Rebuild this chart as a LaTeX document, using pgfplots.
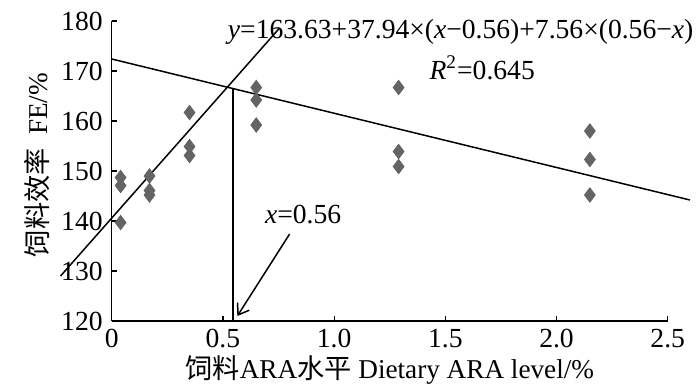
\documentclass[border=0pt]{standalone}
\usepackage{fontspec}
\setmainfont{Liberation Serif}
\newfontfamily\cjk{Noto Sans CJK SC}
\usepackage{pgfplots}
\pgfplotsset{compat=1.18}
\usetikzlibrary{arrows.meta}
\definecolor{pt}{RGB}{100,100,100}
\begin{document}
\begin{tikzpicture}
\begin{axis}[
  name=ax,
  scale only axis,
  width=278pt, height=150pt,
  xmin=0, xmax=2.5, ymin=120, ymax=180,
  axis lines=left,
  axis line style={-, line width=0.7pt},
  clip=false,
  xtick={0,0.5,1,1.5,2,2.5},
  xticklabels={0,0.5,1.0,1.5,2.0,2.5},
  ytick={120,130,140,150,160,170,180},
  tick align=inside,
  major tick length=2.5pt,
  tick style={line width=0.6pt, black},
  /pgf/number format/assume math mode=true,
  ticklabel style={font=\fontsize{13.8}{15}\selectfont},
  xticklabel style={yshift=-0.5pt},
  yticklabel style={xshift=-1pt},
  label style={font=\fontsize{13.6}{15}\selectfont},
  xlabel={{\cjk 饲料}ARA{\cjk 水平} Dietary ARA level/\%},
  ylabel={{\cjk 饲料效率}\ \ FE/\%},
  xlabel style={yshift=3pt},
  ylabel style={at={(ticklabel cs:0.52)}, yshift=-1pt},
]
\coordinate (O) at (axis cs:0,120);
\addplot[only marks, mark=diamond*, mark size=3.6pt, color=pt, mark options={fill=pt, draw=pt}] coordinates {
 (0.04,148.7) (0.04,147.1) (0.04,139.7)
 (0.17,149.0) (0.17,146.1) (0.17,145.2)
 (0.35,161.7) (0.35,154.9) (0.35,153.1)
 (0.65,166.7) (0.65,164.2) (0.65,159.2)
 (1.29,166.7) (1.29,153.9) (1.29,150.9)
 (2.15,158.0) (2.15,152.3) (2.15,145.2)
};
\addplot[black, line width=0.75pt] coordinates {(-0.23,129.0) (0.755,178.6)};
\addplot[black, line width=0.75pt] coordinates {(0,172.4) (2.6,144.2)};
\addplot[black, line width=0.75pt] coordinates {(0.545,120) (0.545,166.6)};
\addplot[black, line width=0.75pt, -{Straight Barb[length=5pt, width=7pt]}] coordinates {(0.80,137.4) (0.565,121.0)};
\node[font=\fontsize{13.8}{15}\selectfont] at (axis cs:0.861,141.2) {\textit{x}=0.56};
\node[font=\fontsize{13.8}{15}\selectfont] at (axis cs:1.569,177.8) {\textit{y}=163.63+37.94×(\textit{x}−0.56)+7.56×(0.56−\textit{x})};
\node[font=\fontsize{13.8}{15}\selectfont] at (axis cs:1.666,170.6) {\textit{R}\textsuperscript{2}=0.645};
\end{axis}
\pgfresetboundingbox
\path[use as bounding box] ([shift={(-55.85pt,-33pt)}]O) rectangle ([shift={(294.15pt,160.5pt)}]O);
\end{tikzpicture}
\end{document}
